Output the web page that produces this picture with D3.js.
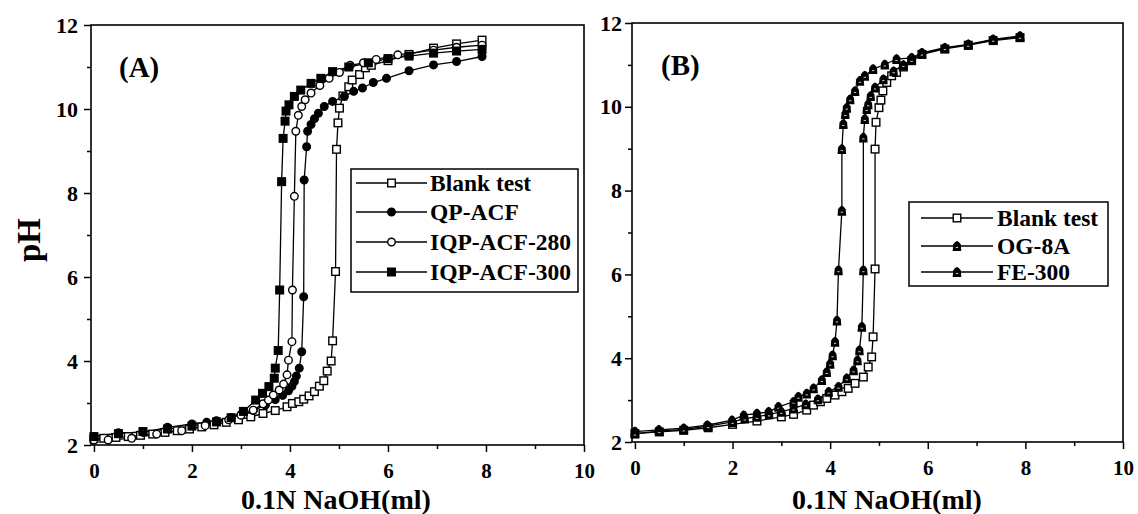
<!DOCTYPE html>
<html>
<head>
<meta charset="utf-8">
<script src="https://cdn.jsdelivr.net/npm/d3@7"></script>
<style>
  body { margin: 0; background: #fff; }
  text { font-family: "Liberation Serif", "Times New Roman", serif; font-weight: bold; fill: #000; }
</style>
</head>
<body>
<div id="chart"></div>
<script>
// ---- data ----
// panel A
var blankA_x = [0, 0.2, 0.45, 0.7, 0.95, 1.2, 1.45, 1.7, 1.95, 2.2, 2.45, 2.7, 2.95, 3.2, 3.45, 3.7, 3.94, 4.05, 4.18, 4.28, 4.39, 4.5, 4.6, 4.69, 4.76, 4.84, 4.87, 4.93, 4.95, 4.98, 5.01, 5.08, 5.2, 5.27, 5.42, 5.54, 5.66, 6.0, 6.43, 6.93, 7.4, 7.92];
var blankA_y = [2.15, 2.16, 2.18, 2.2, 2.23, 2.26, 2.3, 2.34, 2.38, 2.43, 2.48, 2.54, 2.6, 2.67, 2.75, 2.82, 2.91, 2.99, 3.03, 3.09, 3.17, 3.27, 3.4, 3.53, 3.76, 4.0, 4.48, 6.13, 9.04, 9.67, 10.02, 10.31, 10.53, 10.69, 10.82, 10.98, 11.04, 11.15, 11.3, 11.45, 11.55, 11.64];

var qpacf_x = [0, 0.5, 1.0, 1.5, 2.0, 2.3, 2.5, 2.8, 3.0, 3.25, 3.5, 3.7, 3.85, 3.97, 4.04, 4.09, 4.13, 4.19, 4.24, 4.28, 4.29, 4.34, 4.36, 4.43, 4.5, 4.58, 4.7, 4.87, 5.11, 5.3, 5.48, 5.7, 5.97, 6.43, 6.93, 7.4, 7.92];
var qpacf_y = [2.2, 2.29, 2.3, 2.42, 2.5, 2.54, 2.58, 2.65, 2.72, 2.82, 2.95, 3.08, 3.18, 3.29, 3.4, 3.51, 3.64, 3.83, 4.22, 5.53, 8.31, 9.1, 9.47, 9.63, 9.77, 9.9, 10.06, 10.18, 10.3, 10.42, 10.5, 10.63, 10.73, 10.91, 11.05, 11.13, 11.25];

var iqp280_x = [0, 0.29, 0.77, 1.28, 1.79, 2.27, 2.75, 3.0, 3.25, 3.45, 3.56, 3.66, 3.78, 3.87, 3.94, 3.97, 4.04, 4.05, 4.09, 4.12, 4.17, 4.24, 4.31, 4.43, 4.61, 4.8, 5.01, 5.23, 5.5, 5.76, 6.2, 6.93, 7.4, 7.92];
var iqp280_y = [2.12, 2.12, 2.16, 2.26, 2.34, 2.46, 2.6, 2.71, 2.83, 2.98, 3.07, 3.19, 3.31, 3.45, 3.67, 4.02, 4.46, 5.69, 7.92, 9.47, 9.85, 10.06, 10.22, 10.38, 10.56, 10.73, 10.87, 11.04, 11.1, 11.18, 11.29, 11.4, 11.47, 11.52];

var iqp300_x = [0, 0.5, 1.0, 1.5, 2.0, 2.5, 2.8, 3.05, 3.3, 3.44, 3.57, 3.68, 3.7, 3.76, 3.79, 3.83, 3.86, 3.9, 3.92, 3.98, 4.09, 4.22, 4.43, 4.63, 4.87, 5.2, 5.6, 6.0, 6.43, 6.93, 7.4, 7.92];
var iqp300_y = [2.2, 2.27, 2.32, 2.38, 2.45, 2.55, 2.65, 2.8, 3.07, 3.23, 3.39, 3.59, 3.83, 4.25, 5.69, 8.27, 9.3, 9.71, 9.95, 10.1, 10.3, 10.45, 10.61, 10.73, 10.89, 11.0, 11.1, 11.2, 11.26, 11.33, 11.38, 11.42];

// panel B
var blankB_x = [0, 0.5, 1.0, 1.5, 2.0, 2.5, 3.0, 3.25, 3.52, 3.66, 3.8, 3.93, 4.1, 4.24, 4.37, 4.51, 4.68, 4.78, 4.85, 4.88, 4.92, 4.92, 4.94, 5.0, 5.04, 5.08, 5.16, 5.26, 5.36, 5.5, 5.67, 5.88, 6.35, 6.83, 7.34, 7.89];
var blankB_y = [2.2, 2.24, 2.28, 2.34, 2.42, 2.5, 2.6, 2.66, 2.76, 2.88, 2.96, 3.04, 3.12, 3.2, 3.28, 3.4, 3.55, 3.79, 4.03, 4.51, 6.13, 8.99, 9.63, 9.98, 10.16, 10.38, 10.58, 10.74, 10.82, 10.95, 11.1, 11.25, 11.38, 11.47, 11.58, 11.65];

var og8a_x = [0, 0.49, 1.0, 1.48, 1.99, 2.23, 2.5, 2.74, 2.94, 3.25, 3.35, 3.52, 3.66, 3.83, 3.93, 4.0, 4.05, 4.1, 4.14, 4.17, 4.24, 4.24, 4.27, 4.31, 4.34, 4.41, 4.51, 4.61, 4.71, 4.88, 5.12, 5.36, 5.67, 5.88, 6.35, 6.83, 7.34, 7.89];
var og8a_y = [2.25, 2.29, 2.33, 2.4, 2.52, 2.64, 2.68, 2.72, 2.84, 2.96, 3.08, 3.16, 3.28, 3.48, 3.67, 3.87, 4.07, 4.39, 4.9, 6.1, 7.52, 8.99, 9.59, 9.83, 9.98, 10.18, 10.38, 10.62, 10.74, 10.9, 11.01, 11.14, 11.17, 11.29, 11.41, 11.49, 11.61, 11.69];

var fe300_x = [0, 0.5, 1.0, 1.5, 2.0, 2.25, 2.5, 2.75, 3.0, 3.25, 3.5, 3.75, 3.97, 4.17, 4.34, 4.48, 4.56, 4.6, 4.65, 4.68, 4.68, 4.71, 4.75, 4.78, 4.83, 4.92, 5.09, 5.3, 5.5, 5.67, 5.88, 6.35, 6.83, 7.34, 7.89];
var fe300_y = [2.2, 2.26, 2.3, 2.38, 2.48, 2.56, 2.6, 2.66, 2.72, 2.8, 2.9, 3.02, 3.2, 3.32, 3.52, 3.71, 3.95, 4.19, 4.75, 6.1, 9.27, 9.71, 9.95, 10.06, 10.26, 10.46, 10.66, 10.85, 11.0, 11.12, 11.27, 11.4, 11.48, 11.6, 11.67];

var xTicks = [0, 2, 4, 6, 8, 10];
var yTicks = [2, 4, 6, 8, 10, 12];
var xTitle = "0.1N NaOH(ml)";
var yTitle = "pH";

function zip(xs, ys) { return xs.map(function(d, i) { return {x: d, y: ys[i]}; }); }

var seriesA = [
  {name: "Blank test", mark: "openSquare", data: zip(blankA_x, blankA_y)},
  {name: "QP-ACF", mark: "dot", data: zip(qpacf_x, qpacf_y)},
  {name: "IQP-ACF-280", mark: "openCircle", data: zip(iqp280_x, iqp280_y)},
  {name: "IQP-ACF-300", mark: "filledSquare", data: zip(iqp300_x, iqp300_y)}
];
var seriesB = [
  {name: "Blank test", mark: "openSquare", data: zip(blankB_x, blankB_y)},
  {name: "OG-8A", mark: "arch", data: zip(og8a_x, og8a_y)},
  {name: "FE-300", mark: "arch", data: zip(fe300_x, fe300_y)}
];

var svgWidth = 1138, svgHeight = 514;
var svg = d3.select("#chart").append("svg")
  .attr("width", svgWidth).attr("height", svgHeight);

function drawMark(g, type, x, y) {
  if (type === "openSquare" || type === "filledSquare") {
    g.append("rect").attr("x", x - 3.8).attr("y", y - 3.8).attr("width", 7.6).attr("height", 7.6)
      .attr("fill", type === "openSquare" ? "#fff" : "#000")
      .attr("stroke", "#000").attr("stroke-width", 1.4);
  } else if (type === "dot" || type === "openCircle") {
    g.append("circle").attr("cx", x).attr("cy", y).attr("r", 3.8)
      .attr("fill", type === "openCircle" ? "#fff" : "#000")
      .attr("stroke", "#000").attr("stroke-width", 1.4);
  } else if (type === "arch") {
    g.append("path")
      .attr("transform", "translate(" + x + "," + y + ")")
      .attr("d", "M-4.3,5 L-3.8,-1.5 Q0,-8.5 3.8,-1.5 L4.3,5 Z")
      .attr("fill", "#000");
    g.append("line").attr("x1", x - 1.2).attr("x2", x + 1.2).attr("y1", y + 1.5).attr("y2", y + 1.5)
      .attr("stroke", "#fff").attr("stroke-width", 0.8);
  }
}

function panel(opts) {
  var x = d3.scaleLinear().domain([-0.06, 10]).range([opts.left, opts.right]);
  var y = d3.scaleLinear().domain([2, 12]).range([opts.bottom, opts.top]);
  var g = svg.append("g");

  // minor ticks
  g.append("g").attr("transform", "translate(0," + opts.bottom + ")")
    .call(d3.axisBottom(x).tickValues([1, 3, 5, 7, 9]).tickSize(4).tickFormat(""))
    .call(function(s) { s.select(".domain").remove(); });
  g.append("g").attr("transform", "translate(" + opts.left + ",0)")
    .call(d3.axisLeft(y).tickValues([3, 5, 7, 9, 11]).tickSize(4).tickFormat(""))
    .call(function(s) { s.select(".domain").remove(); });

  var xa = g.append("g").attr("transform", "translate(0," + opts.bottom + ")")
    .call(d3.axisBottom(x).tickValues(xTicks).tickSize(7).tickPadding(11));
  xa.select(".domain").remove();
  xa.selectAll("text").attr("font-size", 21);
  var ya = g.append("g").attr("transform", "translate(" + opts.left + ",0)")
    .call(d3.axisLeft(y).tickValues(yTicks).tickSize(7).tickPadding(opts.yPad));
  ya.select(".domain").remove();
  ya.selectAll("text").attr("font-size", 22);
  g.selectAll(".tick line").attr("stroke-width", 1.5);
  g.selectAll(".tick text").style("font-family", "Liberation Serif").style("font-weight", "bold");

  g.append("rect").attr("x", opts.left).attr("y", opts.top)
    .attr("width", opts.right - opts.left).attr("height", opts.bottom - opts.top)
    .attr("fill", "none").attr("stroke", "#000").attr("stroke-width", 1.6);

  var line = d3.line().x(function(d) { return x(d.x); }).y(function(d) { return y(d.y); });
  opts.series.forEach(function(s) {
    g.append("path").datum(s.data).attr("d", line)
      .attr("fill", "none").attr("stroke", "#000").attr("stroke-width", 1.3);
  });
  opts.series.forEach(function(s) {
    var mg = g.append("g");
    s.data.forEach(function(d) { drawMark(mg, s.mark, x(d.x), y(d.y)); });
  });

  g.append("text").attr("x", opts.labelX).attr("y", opts.top + 52)
    .attr("font-size", 29).text(opts.label);

  g.append("text").attr("x", opts.titleX).attr("y", 509)
    .attr("text-anchor", "middle").attr("font-size", 28).text(xTitle);

  // legend
  var L = opts.legend;
  g.append("rect").attr("x", L.x0).attr("y", L.y0).attr("width", L.x1 - L.x0).attr("height", L.y1 - L.y0)
    .attr("fill", "#fff").attr("stroke", "#000").attr("stroke-width", 1.5);
  opts.series.forEach(function(s, i) {
    var ry = L.rows[i];
    g.append("line").attr("x1", L.lx0).attr("x2", L.lx1).attr("y1", ry).attr("y2", ry)
      .attr("stroke", "#000").attr("stroke-width", 1.3);
    drawMark(g, s.mark, (L.lx0 + L.lx1) / 2, ry);
    g.append("text").attr("x", L.tx).attr("y", ry + 8).attr("font-size", 23.5).text(s.name);
  });
}

panel({left: 91, right: 584, top: 25, bottom: 445, yPad: 6, series: seriesA,
  label: "(A)", labelX: 119, titleX: 336,
  legend: {x0: 351, x1: 578, y0: 169, y1: 292, rows: [183, 212, 242, 272], lx0: 356, lx1: 427, tx: 430}});
panel({left: 632, right: 1123, top: 23, bottom: 442, yPad: 3, series: seriesB,
  label: "(B)", labelX: 661, titleX: 887,
  legend: {x0: 909, x1: 1108, y0: 202, y1: 286, rows: [218, 246, 272], lx0: 921, lx1: 993, tx: 997}});

svg.append("text").attr("transform", "translate(40,240) rotate(-90)")
  .attr("text-anchor", "middle").attr("font-size", 33).text(yTitle);
</script>
</body>
</html>
